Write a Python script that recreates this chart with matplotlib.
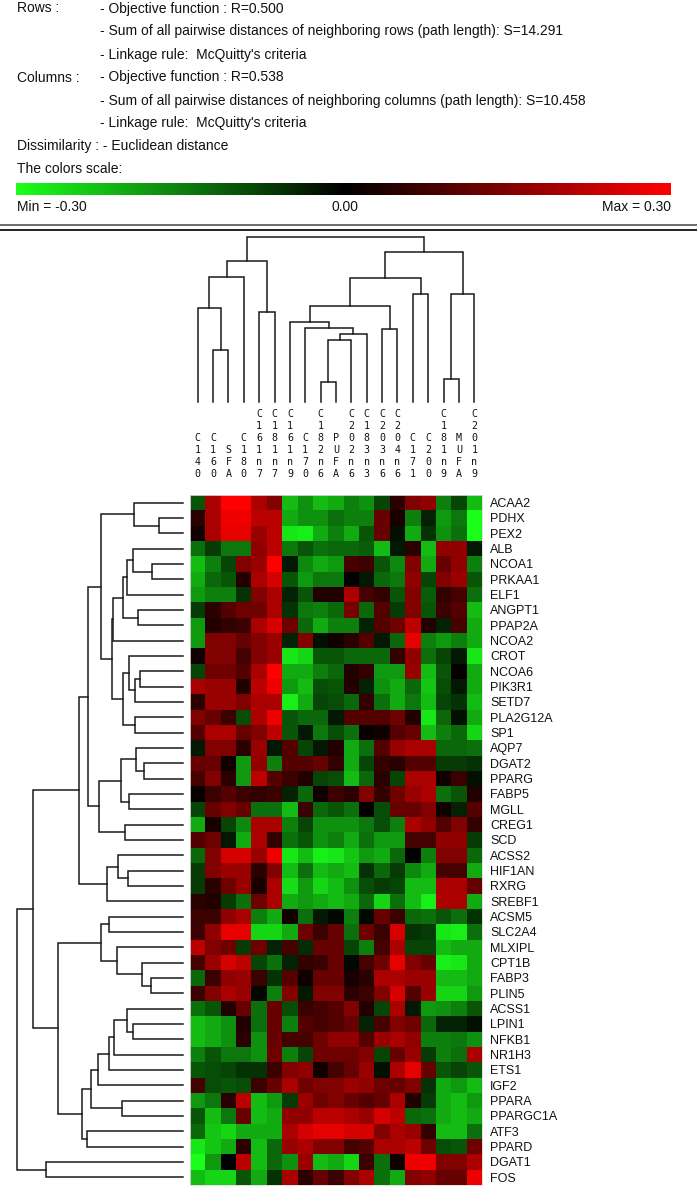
import numpy as np
import matplotlib
matplotlib.use("Agg")
import matplotlib.pyplot as plt
from matplotlib.colors import LinearSegmentedColormap, Normalize
from matplotlib import transforms
import matplotlib.cm as cm

# ---------------- data ----------------
col_labels = ["C140", "C160", "SFA", "C180", "C161n7", "C181n7", "C161n9", "C170",
              "C182n6", "PUFA", "C202n6", "C183n3", "C203n6", "C204n6", "C171",
              "C200", "C181n9", "MUFA", "C201n9"]

row_labels = ["ACAA2", "PDHX", "PEX2", "ALB", "NCOA1", "PRKAA1", "ELF1", "ANGPT1",
              "PPAP2A", "NCOA2", "CROT", "NCOA6", "PIK3R1", "SETD7", "PLA2G12A", "SP1",
              "AQP7", "DGAT2", "PPARG", "FABP5", "MGLL", "CREG1", "SCD", "ACSS2",
              "HIF1AN", "RXRG", "SREBF1", "ACSM5", "SLC2A4", "MLXIPL", "CPT1B", "FABP3",
              "PLIN5", "ACSS1", "LPIN1", "NFKB1", "NR1H3", "ETS1", "IGF2", "PPARA",
              "PPARGC1A", "ATF3", "PPARD", "DGAT1", "FOS"]

cell_values = [
    [-0.10, 0.20, 0.30, 0.30, 0.20, 0.15, -0.22, -0.17, -0.22, -0.20, -0.15, -0.17, -0.08, 0.05, 0.15, 0.17, -0.15, -0.08, -0.22],  # ACAA2
    [0.05, 0.20, 0.28, 0.28, 0.22, 0.22, -0.20, -0.17, -0.17, -0.13, -0.15, -0.15, 0.12, 0.03, -0.15, -0.04, -0.18, -0.14, -0.30],  # PDHX
    [0.02, 0.20, 0.27, 0.27, 0.18, 0.22, -0.27, -0.28, -0.20, -0.15, -0.20, -0.10, 0.12, -0.02, -0.20, -0.06, -0.17, -0.13, -0.30],  # PEX2
    [-0.13, -0.07, -0.14, -0.14, 0.17, 0.22, -0.14, -0.10, -0.13, -0.12, -0.12, -0.11, -0.22, -0.03, 0.05, -0.22, 0.17, 0.17, -0.03],  # ALB
    [-0.22, -0.15, -0.08, 0.15, 0.18, 0.30, -0.03, -0.16, -0.20, -0.18, 0.08, 0.07, -0.10, -0.16, 0.15, -0.20, 0.12, 0.17, -0.15],  # NCOA1
    [-0.20, -0.12, -0.10, 0.04, 0.20, 0.25, -0.10, -0.18, -0.14, -0.14, 0.00, -0.03, -0.12, -0.14, 0.17, -0.08, 0.15, 0.18, -0.10],  # PRKAA1
    [-0.18, -0.15, -0.15, -0.06, 0.15, 0.20, -0.04, -0.10, 0.04, 0.04, 0.20, 0.08, 0.06, -0.10, 0.15, -0.11, 0.06, 0.08, -0.13],  # ELF1
    [-0.07, 0.05, 0.10, 0.13, 0.13, 0.20, -0.06, -0.14, -0.15, -0.12, 0.14, -0.12, 0.10, -0.07, 0.15, -0.10, 0.07, 0.10, -0.22],  # ANGPT1
    [-0.18, 0.04, 0.06, 0.07, 0.20, 0.25, 0.13, -0.12, -0.20, -0.15, -0.15, -0.04, 0.10, 0.13, 0.22, 0.04, -0.04, 0.08, -0.20],  # PPAP2A
    [-0.18, 0.15, 0.15, 0.12, 0.15, 0.18, -0.04, 0.15, -0.02, 0.02, 0.05, 0.10, -0.03, -0.12, 0.27, -0.15, -0.18, -0.15, -0.20],  # NCOA2
    [0.02, 0.15, 0.15, 0.08, 0.15, 0.18, -0.27, -0.25, -0.10, -0.10, -0.12, -0.12, -0.12, 0.06, 0.17, -0.13, -0.08, -0.03, -0.27],  # CROT
    [-0.08, 0.13, 0.13, 0.10, 0.20, 0.30, -0.20, -0.20, -0.15, -0.12, 0.04, 0.06, -0.18, -0.18, 0.18, -0.22, -0.10, 0.01, -0.20],  # NCOA6
    [0.20, 0.18, 0.18, 0.04, 0.22, 0.28, -0.18, -0.22, -0.09, -0.10, 0.04, -0.04, -0.17, -0.20, -0.12, -0.23, -0.09, -0.03, -0.20],  # PIK3R1
    [0.05, 0.18, 0.18, 0.15, 0.20, 0.20, -0.28, -0.20, -0.08, -0.09, -0.12, 0.06, -0.13, -0.20, -0.14, -0.22, -0.08, -0.06, -0.22],  # SETD7
    [0.15, 0.12, 0.07, -0.09, 0.20, 0.28, -0.10, -0.12, -0.12, -0.03, 0.10, 0.10, 0.10, 0.13, 0.04, -0.27, -0.12, -0.02, -0.20],  # PLA2G12A
    [0.10, 0.20, 0.20, 0.12, 0.15, 0.22, -0.10, -0.03, -0.14, -0.09, -0.13, 0.01, 0.02, 0.10, 0.12, -0.22, -0.15, -0.12, -0.25],  # SP1
    [-0.03, 0.15, 0.15, 0.05, 0.18, -0.03, 0.10, -0.08, -0.03, 0.04, -0.20, -0.13, 0.10, 0.18, 0.20, 0.20, -0.12, -0.12, -0.13],  # AQP7
    [0.12, 0.12, 0.02, -0.18, 0.17, -0.15, 0.10, 0.10, 0.12, 0.06, -0.20, -0.08, 0.06, 0.05, 0.10, 0.10, -0.07, -0.07, -0.06],  # DGAT2
    [0.08, 0.15, 0.05, -0.18, 0.22, 0.10, 0.07, 0.04, -0.08, -0.09, -0.22, -0.12, 0.05, -0.08, 0.20, 0.20, 0.02, 0.07, -0.02],  # PPARG
    [0.01, 0.07, 0.10, 0.07, 0.06, 0.07, -0.04, -0.12, 0.02, 0.07, 0.05, 0.15, 0.06, 0.13, 0.18, 0.20, -0.13, -0.10, 0.04],  # FABP5
    [-0.08, 0.12, 0.15, 0.12, -0.13, -0.13, -0.22, 0.07, -0.12, -0.10, -0.13, 0.00, -0.09, 0.12, 0.12, 0.15, 0.02, -0.04, 0.10],  # MGLL
    [-0.20, 0.03, -0.08, -0.16, 0.20, 0.20, -0.15, -0.08, -0.17, -0.17, -0.17, -0.14, -0.09, -0.15, 0.20, 0.17, 0.10, 0.15, 0.06],  # CREG1
    [0.10, 0.13, -0.03, -0.20, 0.20, 0.06, -0.13, -0.10, -0.17, -0.15, -0.20, -0.13, -0.18, -0.18, 0.08, 0.08, 0.17, 0.17, -0.07],  # SCD
    [-0.12, 0.15, 0.25, 0.25, 0.18, 0.28, -0.27, -0.22, -0.28, -0.27, -0.23, -0.18, -0.20, -0.12, 0.00, -0.15, 0.15, 0.15, -0.12],  # ACSS2
    [-0.07, 0.15, 0.18, 0.18, 0.05, 0.15, -0.22, -0.13, -0.22, -0.20, -0.22, -0.06, -0.12, -0.07, -0.16, -0.20, 0.08, 0.08, -0.20],  # HIF1AN
    [-0.07, 0.05, 0.13, 0.18, 0.03, 0.20, -0.26, -0.18, -0.25, -0.22, -0.17, -0.09, -0.07, -0.08, -0.22, -0.22, 0.20, 0.20, 0.12],  # RXRG
    [0.05, 0.04, -0.07, -0.13, 0.13, 0.20, -0.20, -0.18, -0.20, -0.22, -0.20, -0.12, -0.25, -0.13, -0.22, -0.28, 0.20, 0.20, -0.20],  # SREBF1
    [0.07, 0.07, 0.17, 0.20, -0.15, -0.20, 0.02, -0.13, -0.03, -0.01, -0.15, -0.01, 0.12, 0.07, -0.12, -0.13, -0.10, -0.13, -0.06],  # ACSM5
    [0.07, 0.17, 0.27, 0.27, -0.25, -0.25, -0.20, 0.13, 0.07, 0.12, -0.13, 0.13, 0.07, 0.25, -0.06, -0.07, -0.27, -0.28, -0.13],  # SLC2A4
    [0.22, 0.15, 0.13, -0.07, 0.13, -0.04, 0.08, -0.05, 0.12, 0.12, -0.08, -0.15, 0.08, 0.20, -0.08, -0.08, -0.22, -0.20, -0.20],  # MLXIPL
    [0.08, 0.18, 0.25, 0.22, -0.08, -0.13, -0.04, 0.06, 0.07, 0.12, -0.01, 0.08, 0.13, 0.27, 0.15, 0.12, -0.28, -0.27, -0.20],  # CPT1B
    [-0.12, 0.07, 0.17, 0.18, 0.07, -0.06, 0.10, 0.02, 0.12, 0.12, 0.03, 0.05, 0.20, 0.20, 0.18, 0.18, -0.22, -0.22, -0.20],  # FABP3
    [0.07, 0.15, 0.20, 0.18, -0.01, -0.15, 0.15, -0.03, 0.15, 0.15, 0.05, 0.07, 0.15, 0.25, 0.10, 0.18, -0.25, -0.25, -0.18],  # PLIN5
    [-0.13, -0.10, 0.04, 0.12, -0.13, 0.12, -0.09, 0.07, 0.08, 0.10, 0.15, 0.04, -0.08, 0.20, -0.03, -0.18, -0.17, -0.15, -0.10],  # ACSS1
    [-0.22, -0.20, -0.17, 0.04, -0.13, 0.12, -0.15, 0.10, 0.08, 0.10, 0.12, -0.04, 0.08, 0.15, 0.13, -0.12, -0.04, -0.04, -0.02],  # LPIN1
    [-0.22, -0.20, -0.17, 0.05, -0.17, 0.12, 0.08, 0.08, 0.13, 0.17, 0.17, 0.10, 0.18, 0.20, 0.17, -0.15, -0.15, -0.14, -0.17],  # NFKB1
    [-0.15, -0.10, -0.14, -0.14, -0.17, 0.13, -0.15, -0.08, 0.13, 0.13, 0.13, 0.15, -0.08, 0.12, 0.18, -0.07, -0.15, -0.13, 0.20],  # NR1H3
    [-0.10, -0.09, -0.08, -0.06, -0.06, 0.07, 0.15, 0.17, 0.02, 0.08, 0.12, 0.18, -0.02, 0.20, 0.27, 0.12, -0.10, -0.08, -0.10],  # ETS1
    [0.08, -0.09, -0.10, -0.09, 0.07, 0.12, 0.20, 0.13, 0.15, 0.15, 0.18, 0.17, 0.13, 0.12, 0.15, -0.06, -0.20, -0.18, -0.22],  # IGF2
    [-0.18, -0.14, 0.05, 0.22, -0.22, -0.18, -0.07, 0.18, 0.13, 0.15, 0.12, 0.10, 0.12, 0.20, 0.04, -0.07, -0.20, -0.22, -0.18],  # PPARA
    [-0.10, -0.22, -0.14, 0.12, -0.22, -0.20, 0.17, 0.17, 0.22, 0.22, 0.20, 0.18, 0.25, 0.22, -0.12, -0.13, -0.20, -0.22, -0.20],  # PPARGC1A
    [-0.12, -0.23, -0.25, -0.20, -0.20, -0.20, 0.20, 0.25, 0.27, 0.27, 0.25, 0.25, 0.15, 0.20, 0.18, 0.06, -0.22, -0.22, -0.13],  # ATF3
    [-0.27, -0.23, -0.20, 0.05, -0.22, -0.12, 0.18, 0.20, 0.15, 0.15, 0.08, 0.10, 0.20, 0.20, 0.22, 0.13, -0.09, -0.10, 0.13],  # PPARD
    [-0.30, -0.18, 0.00, 0.22, -0.22, -0.12, -0.17, 0.18, -0.22, -0.20, -0.25, 0.07, -0.13, 0.02, 0.28, 0.28, 0.15, 0.15, 0.20],  # DGAT1
    [-0.22, -0.25, -0.25, -0.10, -0.20, -0.06, 0.20, 0.05, 0.12, 0.07, 0.15, 0.20, -0.13, -0.20, 0.15, 0.17, 0.12, 0.12, 0.28],  # FOS
]

# column dendrogram: (child_a, child_b, height); leaves 0..18, merges numbered from 19
col_merges = [
    (1, 2, 1.55), (0, 19, 2.80), (20, 3, 3.75), (4, 5, 2.70), (21, 22, 4.22),
    (8, 9, 0.60), (24, 10, 1.85), (25, 11, 2.02), (7, 26, 2.20), (6, 27, 2.40),
    (12, 13, 2.17), (28, 29, 2.87), (14, 15, 3.23), (30, 31, 3.70), (16, 17, 0.67),
    (33, 18, 3.23), (32, 34, 4.50), (23, 35, 4.93),
]

# row dendrogram: leaves 0..44, merges numbered from 45
row_merges = [
    (1, 2, 0.73), (0, 45, 1.47), (4, 5, 0.93), (3, 47, 1.50), (48, 6, 1.70),
    (7, 8, 1.35), (49, 50, 1.80), (51, 9, 2.12), (11, 12, 1.30), (53, 13, 1.46),
    (10, 54, 1.62), (14, 15, 1.46), (55, 56, 1.80), (52, 57, 2.15), (46, 58, 2.47),
    (17, 18, 1.18), (16, 60, 1.42), (19, 20, 1.62), (61, 62, 1.88), (21, 22, 1.74),
    (63, 64, 2.54), (59, 65, 2.85), (24, 25, 1.67), (23, 67, 1.96), (68, 26, 2.30),
    (66, 69, 3.12), (27, 28, 2.23), (31, 32, 0.97), (30, 72, 1.23), (29, 73, 2.00),
    (71, 74, 2.46), (34, 35, 1.50), (33, 76, 1.70), (77, 36, 2.07), (78, 37, 2.23),
    (79, 38, 2.57), (39, 40, 1.85), (80, 81, 2.77), (41, 42, 2.88), (82, 83, 3.04),
    (75, 84, 3.77), (70, 85, 4.50), (43, 44, 4.12), (86, 87, 5.00),
]

header_rows = ["- Objective function : R=0.500",
               "- Sum of all pairwise distances of neighboring rows (path length): S=14.291",
               "- Linkage rule:  McQuitty's criteria"]
header_cols = ["- Objective function : R=0.538",
               "- Sum of all pairwise distances of neighboring columns (path length): S=10.458",
               "- Linkage rule:  McQuitty's criteria"]
vmin, vmax = -0.30, 0.30

# ---------------- layout (pixels) ----------------
W, H = 697, 1189
fig = plt.figure(figsize=(W / 100, H / 100), dpi=100)
fig.patch.set_facecolor("white")


def px_axes(x0, y0, x1, y1):
    return fig.add_axes([x0 / W, 1 - y1 / H, (x1 - x0) / W, (y1 - y0) / H])


bg = px_axes(0, 0, W, H)
bg.set_xlim(0, W)
bg.set_ylim(H, 0)
bg.axis("off")

HFONT = "Liberation Sans"
hfs = 10.0
txt_col = "#111111"
line_y = [8.5, 31.5, 54.5, 77.5, 100.5, 123.5, 146.0, 169.0]
bg.text(17, line_y[0], "Rows :", fontsize=hfs, family=HFONT, va="center", color=txt_col)
for i, s in enumerate(header_rows):
    bg.text(100, line_y[i], s, fontsize=hfs, family=HFONT, va="center", color=txt_col)
bg.text(17, line_y[3], "Columns :", fontsize=hfs, family=HFONT, va="center", color=txt_col)
for i, s in enumerate(header_cols):
    bg.text(100, line_y[3 + i], s, fontsize=hfs, family=HFONT, va="center", color=txt_col)
bg.text(17, line_y[6], "Dissimilarity : - Euclidean distance", fontsize=hfs, family=HFONT,
        va="center", color=txt_col)
bg.text(17, line_y[7], "The colors scale:", fontsize=hfs, family=HFONT, va="center", color=txt_col)

cmap = LinearSegmentedColormap.from_list("gbr", ["#1aff1a", "#000000", "#ff0000"])
norm = Normalize(vmin=vmin, vmax=vmax)

cax = px_axes(16, 182.5, 671, 195)
cb = fig.colorbar(cm.ScalarMappable(norm=norm, cmap=cmap), cax=cax, orientation="horizontal")
cb.set_ticks([])
cb.outline.set_visible(False)

bg.text(17, 207, f"Min = {vmin:.2f}", fontsize=hfs, family=HFONT, va="center", ha="left", color=txt_col)
bg.text(345, 207, f"{0:.2f}", fontsize=hfs, family=HFONT, va="center", ha="center", color=txt_col)
bg.text(671, 207, f"Max = {vmax:.2f}", fontsize=hfs, family=HFONT, va="center", ha="right", color=txt_col)

# double separator line
bg.plot([0, W], [224.5, 224.5], color="#555555", lw=1.2, solid_capstyle="butt")
bg.plot([0, W], [229.5, 229.5], color="#222222", lw=1.4, solid_capstyle="butt")

# ---------------- heatmap ----------------
data = np.array(cell_values)
nrow, ncol = data.shape
hx0, hx1, hy0, hy1 = 190, 482, 495, 1185
ax = px_axes(hx0, hy0, hx1, hy1)
ax.imshow(data, cmap=cmap, norm=norm, aspect="auto", interpolation="nearest")
ax.set_xticks([])
ax.yaxis.tick_right()
ax.set_yticks(np.arange(nrow))
ax.set_yticklabels(row_labels, fontsize=9, family="Liberation Sans", color=txt_col)
ax.tick_params(axis="y", length=0, pad=6)
for sp in ax.spines.values():
    sp.set_color("#dddddd")
    sp.set_linewidth(0.6)

# column labels (one character per line)
tr = transforms.blended_transform_factory(ax.transData, bg.transData)
for i, lab in enumerate(col_labels):
    bg.text(i, 479, "\n".join(lab), transform=tr, ha="center", va="bottom",
            multialignment="center", fontsize=7.2, family="DejaVu Sans Mono",
            linespacing=1.24, color=txt_col)


# ---------------- dendrograms ----------------
def draw_dendro(axd, merges, n, orient):
    pos = {i: float(i) for i in range(n)}
    hgt = {i: 0.0 for i in range(n)}
    for k, (a, b, h) in enumerate(merges):
        node = n + k
        xs = [pos[a], pos[a], pos[b], pos[b]]
        ys = [hgt[a], h, h, hgt[b]]
        if orient == "top":
            axd.plot(xs, ys, color="#1a1a1a", lw=1.1, solid_joinstyle="miter")
        else:
            axd.plot(ys, xs, color="#1a1a1a", lw=1.1, solid_joinstyle="miter")
        pos[node] = (pos[a] + pos[b]) / 2
        hgt[node] = h
    return max(h for _, _, h in merges)


cd = px_axes(hx0, 237.3, hx1, 401.7)
top_h = draw_dendro(cd, col_merges, ncol, "top")
cd.set_xlim(-0.5, ncol - 0.5)
cd.set_ylim(0, top_h)
cd.axis("off")

rd = px_axes(16.7, hy0, 183.3, hy1)
left_h = draw_dendro(rd, row_merges, nrow, "left")
rd.set_ylim(nrow - 0.5, -0.5)
rd.set_xlim(left_h, 0)
rd.axis("off")

for a_ in (cd, rd):
    for ln in a_.lines:
        ln.set_clip_on(False)

fig.savefig("out.png", dpi=100, facecolor="white")
